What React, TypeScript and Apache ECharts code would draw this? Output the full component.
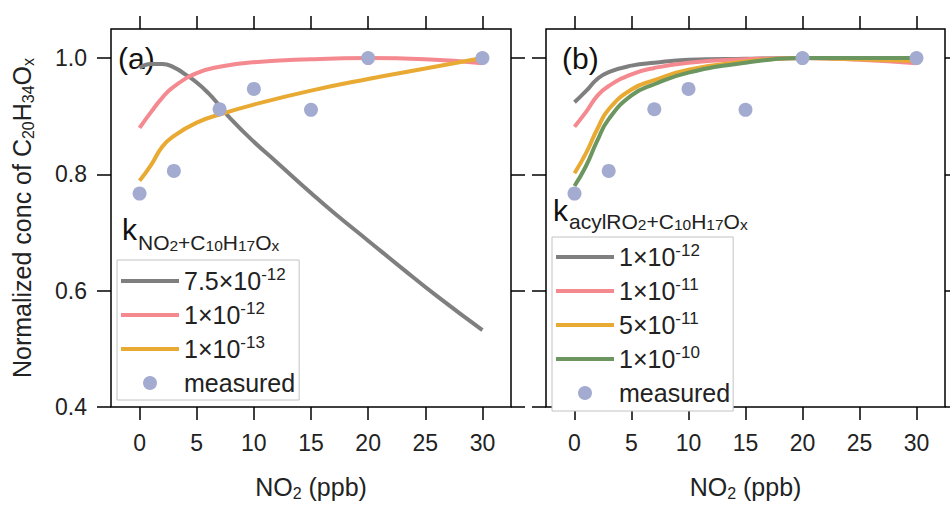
import React, { useEffect, useRef } from 'react';
import * as echarts from 'echarts';

const FONT = '"Liberation Sans", Arial, Helvetica, sans-serif';

const xTicks = [0, 5, 10, 15, 20, 25, 30];
const yTicks = [0.4, 0.6, 0.8, 1.0];

const measuredX = [0, 3, 7, 10, 15, 20, 30];
const measuredY = [0.767, 0.806, 0.912, 0.947, 0.911, 1.0, 1.0];

// panel (a)
const grayAX = [0, 1, 2, 3, 4, 5, 6, 7, 8, 10, 12, 15, 17, 20, 23, 26, 30];
const grayAY = [0.983, 0.99, 0.99, 0.984, 0.972, 0.958, 0.94, 0.918, 0.895, 0.856, 0.821, 0.768, 0.734, 0.686, 0.638, 0.591, 0.532];
const curveX = [0, 1, 2, 3, 5, 7, 10, 15, 20, 25, 30];
const pinkAY = [0.88, 0.907, 0.932, 0.951, 0.974, 0.985, 0.993, 0.998, 1.0, 0.998, 0.991];
const orangeAY = [0.789, 0.816, 0.848, 0.866, 0.889, 0.903, 0.92, 0.944, 0.964, 0.982, 1.0];

// panel (b)
const grayBY = [0.924, 0.943, 0.964, 0.976, 0.987, 0.992, 0.997, 0.999, 1.0, 0.999, 0.997];
const pinkBY = [0.882, 0.907, 0.935, 0.952, 0.972, 0.983, 0.992, 0.998, 1.0, 0.997, 0.991];
const orangeBY = [0.802, 0.836, 0.878, 0.912, 0.946, 0.962, 0.98, 0.994, 1.0, 0.998, 0.995];
const greenBY = [0.78, 0.814, 0.858, 0.895, 0.936, 0.955, 0.975, 0.992, 1.0, 1.0, 1.0];

const legendALabels = ['7.5×10^-12', '1×10^-12', '1×10^-13', 'measured'];
const legendBLabels = ['1×10^-12', '1×10^-11', '5×10^-11', '1×10^-10', 'measured'];

const GRAY = '#7f7f7f';
const PINK = '#f4898f';
const ORANGE = '#e8aa32';
const GREEN = '#6c9660';
const DOT = '#a3acd0';

const zip = (xs: number[], ys: number[]) => xs.map((x, i) => [x, ys[i]]);

export default function App() {
  const ref = useRef<HTMLDivElement>(null);
  useEffect(() => {
    if (!ref.current) return;
    const chart = echarts.init(ref.current, undefined, { renderer: 'svg' });

    const tickStyle = { color: '#000', width: 1.5 };
    const nameRich = {
      m: { fontFamily: FONT, fontSize: 25, color: '#222', lineHeight: 25, verticalAlign: 'top' },
      s: { fontFamily: FONT, fontSize: 16, color: '#222', lineHeight: 27, verticalAlign: 'bottom' },
    };
    const mkX = (gridIndex: number, position: 'top' | 'bottom', labels: boolean) => ({
      type: 'value',
      gridIndex,
      position,
      min: -2.5,
      max: 32.5,
      axisLine: { show: false, onZero: false },
      splitLine: { show: false },
      axisTick: { show: true, inside: false, length: 13, customValues: xTicks, lineStyle: tickStyle },
      axisLabel: {
        show: labels,
        customValues: xTicks,
        fontSize: 23,
        fontFamily: FONT,
        color: '#222',
        margin: 24,
      },
      name: labels ? '{m|NO}{s|2}{m| (ppb)}' : '',
      nameLocation: 'middle',
      nameGap: 67,
      nameTextStyle: { fontFamily: FONT, fontSize: 25, color: '#222', rich: nameRich },
    });
    const mkY = (gridIndex: number, position: 'left' | 'right', labels: boolean, withName: boolean) => ({
      type: 'value',
      gridIndex,
      position,
      min: 0.4,
      max: 1.05,
      axisLine: { show: false, onZero: false },
      splitLine: { show: false },
      axisTick: { show: true, inside: false, length: 14, customValues: yTicks, lineStyle: tickStyle },
      axisLabel: {
        show: labels,
        customValues: yTicks,
        formatter: (v: number) => v.toFixed(1),
        fontSize: 23,
        fontFamily: FONT,
        color: '#222',
        margin: 24,
      },
      name: withName ? '{m|Normalized conc of C}{s|20}{m|H}{s|34}{m|O}{s|x}' : '',
      nameLocation: 'middle',
      nameGap: 75,
      nameTextStyle: { fontFamily: FONT, fontSize: 25, color: '#222', rich: nameRich },
    });

    const line = (name: string, xs: number[], ys: number[], color: string, axis: number, z: number) => ({
      type: 'line',
      name,
      xAxisIndex: axis,
      yAxisIndex: axis,
      data: zip(xs, ys),
      smooth: 0.5,
      symbol: 'none',
      showSymbol: false,
      lineStyle: { color, width: 4 },
      itemStyle: { color },
      z,
    });
    const scatter = (name: string, axis: number) => ({
      type: 'scatter',
      name,
      xAxisIndex: axis,
      yAxisIndex: axis,
      data: zip(measuredX, measuredY),
      symbol: 'circle',
      symbolSize: 14,
      itemStyle: { color: DOT, opacity: 1 },
      z: 10,
    });

    const aNames = legendALabels.map((l) => 'A|' + l);
    const bNames = legendBLabels.map((l) => 'B|' + l);

    const legendFormatter = (name: string) => {
      const label = name.slice(2);
      return label.replace(/\^(.+)$/, '{sup|$1}');
    };
    const legendCommon = {
      orient: 'vertical',
      itemWidth: 58,
      itemHeight: 14,
      itemGap: 4,
      selectedMode: false,
      borderColor: '#c2c2c2',
      borderWidth: 1,
      borderRadius: 0,
      backgroundColor: '#fff',
      lineStyle: { width: 4 },
      formatter: legendFormatter,
      textStyle: {
        fontFamily: FONT,
        fontSize: 25,
        color: '#222',
        lineHeight: 30,
        rich: {
          sup: { fontFamily: FONT, fontSize: 17, color: '#222', lineHeight: 17, verticalAlign: 'top' },
        },
      },
    };

    const subRich = {
      s: { fontFamily: FONT, fontSize: 21, color: '#222', lineHeight: 21, verticalAlign: 'bottom' },
      ss: { fontFamily: FONT, fontSize: 15.5, color: '#222', lineHeight: 15.5, verticalAlign: 'bottom' },
    };

    chart.setOption({
      animation: false,
      backgroundColor: '#fff',
      grid: [
        { left: 111, top: 29, width: 400, height: 384, show: true, borderColor: '#000', borderWidth: 1.5, backgroundColor: 'transparent' },
        { left: 546, top: 29, width: 399, height: 384, show: true, borderColor: '#000', borderWidth: 1.5, backgroundColor: 'transparent' },
      ],
      xAxis: [mkX(0, 'bottom', true), mkX(0, 'top', false), mkX(1, 'bottom', true), mkX(1, 'top', false)],
      yAxis: [mkY(0, 'left', true, true), mkY(0, 'right', false, false), mkY(1, 'left', false, false), mkY(1, 'right', false, false)],
      legend: [
        {
          ...legendCommon,
          left: 117,
          top: 260,
          padding: [6, 4, 2, 2],
          data: aNames.map((n, i) => (i < 3 ? { name: n, itemStyle: { opacity: 0 } } : { name: n })),
        },
        {
          ...legendCommon,
          left: 552,
          top: 237,
          padding: [5, 3, 3, 2],
          data: bNames.map((n, i) => (i < 4 ? { name: n, itemStyle: { opacity: 0 } } : { name: n })),
        },
      ],
      graphic: [
        { type: 'text', x: 118, y: 58, style: { text: '(a)', fontFamily: FONT, fontSize: 30, fill: '#111', verticalAlign: 'middle' } },
        { type: 'text', x: 562, y: 58, style: { text: '(b)', fontFamily: FONT, fontSize: 30, fill: '#111', verticalAlign: 'middle' } },
        { type: 'text', x: 122, y: 229.6, style: { text: 'k', fontFamily: FONT, fontSize: 30, fill: '#111', verticalAlign: 'middle' } },
        {
          type: 'text', x: 138, y: 232,
          style: { text: '{s|NO}{ss|2}{s|+C}{ss|10}{s|H}{ss|17}{s|O}{ss|x}', rich: subRich, fontFamily: FONT, fill: '#222', verticalAlign: 'top' },
        },
        { type: 'text', x: 553, y: 210.6, style: { text: 'k', fontFamily: FONT, fontSize: 30, fill: '#111', verticalAlign: 'middle' } },
        {
          type: 'text', x: 569, y: 211,
          style: { text: '{s|acylRO}{ss|2}{s|+C}{ss|10}{s|H}{ss|17}{s|O}{ss|x}', rich: subRich, fontFamily: FONT, fill: '#222', verticalAlign: 'top' },
        },
      ],
      series: [
        line(aNames[0], grayAX, grayAY, GRAY, 0, 3),
        line(aNames[1], curveX, pinkAY, PINK, 0, 4),
        line(aNames[2], curveX, orangeAY, ORANGE, 0, 5),
        scatter(aNames[3], 0),
        line(bNames[0], curveX, grayBY, GRAY, 2, 3),
        line(bNames[1], curveX, pinkBY, PINK, 2, 4),
        line(bNames[2], curveX, orangeBY, ORANGE, 2, 5),
        line(bNames[3], curveX, greenBY, GREEN, 2, 6),
        scatter(bNames[4], 2),
      ],
    });
    return () => chart.dispose();
  }, []);
  return <div ref={ref} style={{ position: 'absolute', left: 0, top: 0, width: 950, height: 506 }} />;
}
